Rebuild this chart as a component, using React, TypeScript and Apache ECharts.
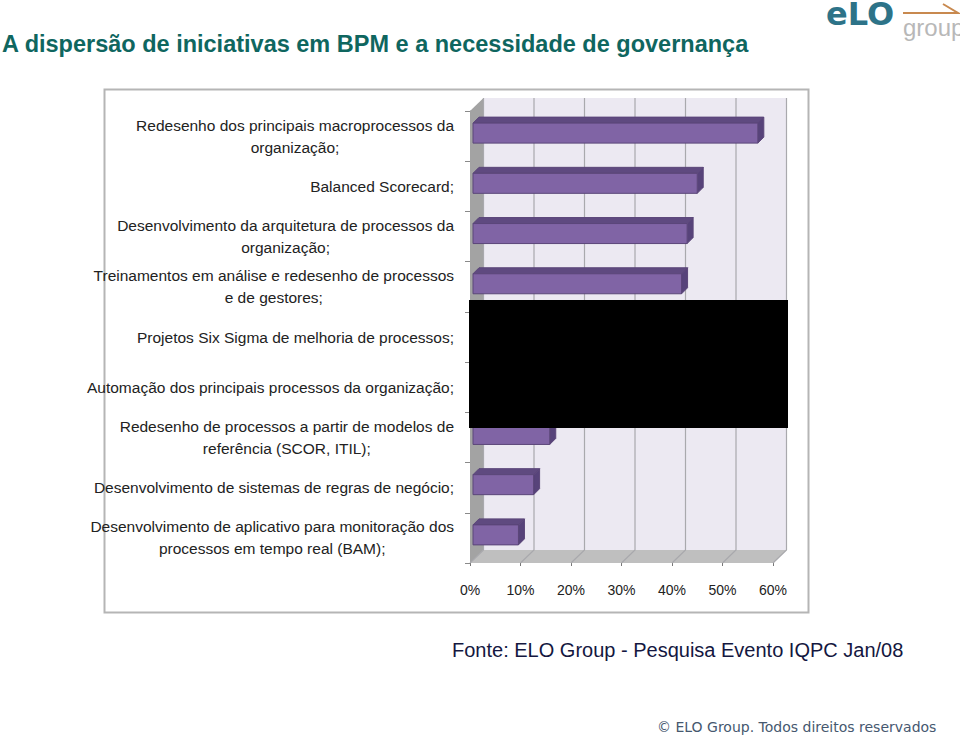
import React, { useEffect, useRef } from "react";
import * as echarts from "echarts";

const categoryLines = [
  ["Redesenho dos principais macroprocessos da", "organização;"],
  ["Balanced Scorecard;"],
  ["Desenvolvimento da arquitetura de processos da", "organização;"],
  ["Treinamentos em análise e redesenho de processos", "e de gestores;"],
  ["Projetos Six Sigma de melhoria de processos;"],
  ["Automação dos principais processos da organização;"],
  ["Redesenho de processos a partir de modelos de", "referência (SCOR, ITIL);"],
  ["Desenvolvimento de sistemas de regras de negócio;"],
  ["Desenvolvimento de aplicativo para monitoração dos", "processos em tempo real (BAM);"],
];
const values = [56.4, 44.4, 42.4, 41.3, 33, 24, 15.2, 12, 9];
const xTicks = [0, 10, 20, 30, 40, 50, 60];

const DX = 13.5;
const DY = 13;
const NARROW = "'Liberation Sans Narrow', 'Liberation Sans', sans-serif";
const SANS = "'Liberation Sans', Arial, sans-serif";

const categories = categoryLines.map((l) => l.join("\n"));

function renderBackdrop(params: any, api: any) {
  const v = api.value(0);
  const cs = params.coordSys;
  const x = api.coord([v, 0])[0];
  const top = cs.y;
  const bottom = cs.y + cs.height;
  const left = cs.x;
  const right = cs.x + cs.width;
  const children: any[] = [];
  if (params.dataIndex === 0) {
    children.push(
      { type: "rect", shape: { x: left + DX, y: top - DY, width: right - left, height: bottom - top }, style: { fill: "#ece9f2" } },
      { type: "polygon", shape: { points: [[left, bottom], [right, bottom], [right + DX, bottom - DY], [left + DX, bottom - DY]] }, style: { fill: "#bfbfbf" } },
      { type: "polygon", shape: { points: [[left, top], [left + DX, top - DY], [left + DX, bottom - DY], [left, bottom]] }, style: { fill: "#a3a3a3" } }
    );
  }
  children.push({
    type: "polyline",
    shape: { points: [[x, bottom], [x + DX, bottom - DY], [x + DX, top - DY]] },
    style: { fill: "none", stroke: "#a9a9ad", lineWidth: 1.2 },
  });
  return { type: "group", children };
}

function renderBar(params: any, api: any) {
  const v = api.value(0);
  const i = api.value(1);
  const [xEnd, cy] = api.coord([v, i]);
  const x0 = api.coord([0, i])[0] + 3;
  const x1 = xEnd + 3;
  const y0 = cy - 13;
  const y1 = cy + 7;
  const d = 6;
  const edge = { stroke: "#5b4679", lineWidth: 1 };
  return {
    type: "group",
    children: [
      { type: "polygon", shape: { points: [[x0, y0], [x0 + d, y0 - d], [x1 + d, y0 - d], [x1, y0]] }, style: { fill: "#5f4a80", ...edge } },
      { type: "polygon", shape: { points: [[x1, y0], [x1 + d, y0 - d], [x1 + d, y1 - d], [x1, y1]] }, style: { fill: "#57437a", ...edge } },
      { type: "rect", shape: { x: x0, y: y0, width: x1 - x0, height: y1 - y0 }, style: { fill: "#8064a5", ...edge } },
    ],
  };
}

export default function App() {
  const ref = useRef<HTMLDivElement>(null);
  useEffect(() => {
    const chart = echarts.init(ref.current!, undefined, { renderer: "svg" });
    chart.setOption({
      animation: false,
      backgroundColor: "#ffffff",
      grid: { left: 470, top: 111, width: 303, height: 452, containLabel: false },
      xAxis: {
        type: "value",
        min: 0,
        max: 60,
        interval: 10,
        axisLine: { show: false },
        axisTick: { show: true, length: 3, lineStyle: { color: "#777" } },
        splitLine: { show: false },
        axisLabel: {
          formatter: "{value}%",
          margin: 20,
          fontFamily: NARROW,
          fontSize: 14,
          color: "#222",
        },
      },
      yAxis: {
        type: "category",
        inverse: true,
        data: categories,
        axisLine: { show: true, lineStyle: { color: "#8a8a8a" } },
        axisTick: { show: true, length: 5, lineStyle: { color: "#8a8a8a" } },
        axisLabel: {
          margin: 16,
          interval: 0,
          align: "right",
          formatter: (val: string) =>
            val.split("\n").map((l) => `{c|${l}}`).join("\n"),
          rich: {
            c: { align: "center", fontFamily: NARROW, fontSize: 15.5, lineHeight: 22, color: "#222" },
          },
        },
      },
      series: [
        {
          type: "custom",
          silent: true,
          z: 1,
          renderItem: renderBackdrop,
          encode: { x: 0 },
          data: xTicks.map((t) => [t]),
        },
        {
          type: "custom",
          silent: true,
          z: 3,
          renderItem: renderBar,
          encode: { x: 0, y: 1 },
          data: values.map((v, i) => [v, i]),
        },
      ],
      graphic: [
        { type: "rect", z: -10, shape: { x: 104.5, y: 89.5, width: 704, height: 523 }, style: { fill: "#fff", stroke: "#b5b5b5", lineWidth: 2 } },
        { type: "rect", z: 100, shape: { x: 469, y: 300, width: 319, height: 128 }, style: { fill: "#000" } },
        { type: "text", z: 100, x: 2, y: 44, style: { text: "A dispersão de iniciativas em BPM e a necessidade de governança", fontFamily: SANS, fontWeight: "bold", fontSize: 23.5, fill: "#0f665f", textVerticalAlign: "middle" } },
        { type: "text", z: 100, x: 452, y: 650, style: { text: "Fonte: ELO Group - Pesquisa Evento IQPC Jan/08", fontFamily: SANS, fontSize: 20, fill: "#14173f", textVerticalAlign: "middle" } },
        { type: "text", z: 100, x: 657, y: 727, style: { text: "© ELO Group. Todos direitos reservados", fontFamily: "'DejaVu Sans', sans-serif", fontSize: 14, fill: "#46586f", textVerticalAlign: "middle" } },
        { type: "text", z: 100, x: 826, y: 14, style: { text: "eLO", fontFamily: "'DejaVu Sans', sans-serif", fontWeight: "bold", fontSize: 32, fill: "#2d7388", textVerticalAlign: "middle" } },
        { type: "text", z: 100, x: 903, y: 27, style: { text: "group", fontFamily: SANS, fontSize: 24, fill: "#b8b8b8", textVerticalAlign: "middle" } },
        { type: "polyline", z: 100, shape: { points: [[903, 13], [958, 13], [943, 4]] }, style: { fill: "none", stroke: "#c8894f", lineWidth: 2 } },
      ],
    });
    return () => chart.dispose();
  }, []);
  return <div ref={ref} style={{ position: "fixed", left: 0, top: 0, width: 960, height: 735 }} />;
}
